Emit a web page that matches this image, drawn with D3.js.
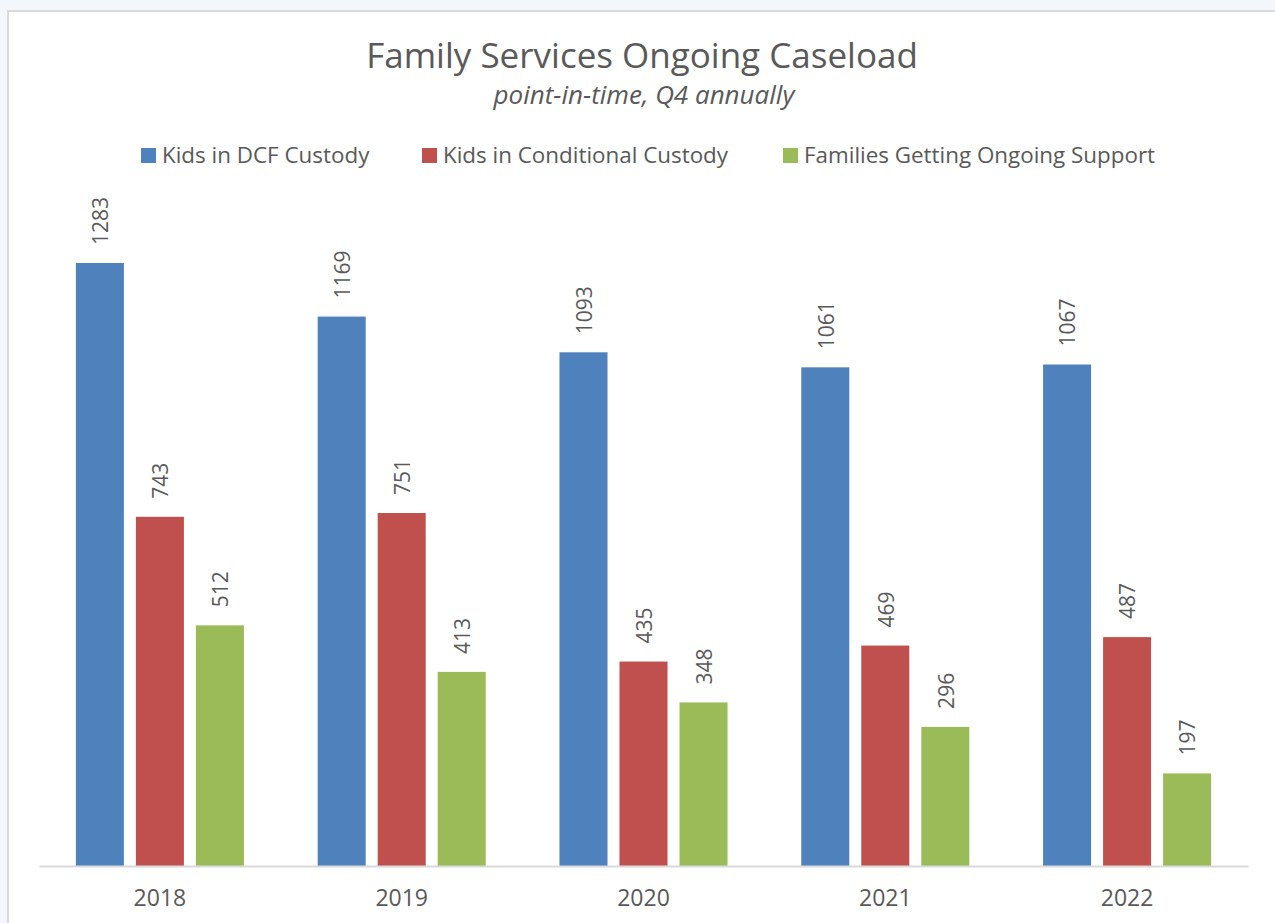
<!DOCTYPE html>
<html>
<head>
<meta charset="utf-8">
<script src="https://cdn.jsdelivr.net/npm/d3@7"></script>
<style>
  html, body { margin: 0; padding: 0; background: #f3f6fb; }
  svg { display: block; }
</style>
</head>
<body>
<svg id="chart" width="1275" height="923"></svg>
<script>
const years = ["2018", "2019", "2020", "2021", "2022"];
const seriesNames = ["Kids in DCF Custody", "Kids in Conditional Custody", "Families Getting Ongoing Support"];
const dcfCustody = [1283, 1169, 1093, 1061, 1067];
const conditionalCustody = [743, 751, 435, 469, 487];
const ongoingSupport = [512, 413, 348, 296, 197];
const seriesColors = ["#4f81bd", "#c0504d", "#9bbb59"];
const titleText = "Family Services Ongoing Caseload";
const subtitleText = "point-in-time, Q4 annually";

const seriesValues = [dcfCustody, conditionalCustody, ongoingSupport];
const rows = years.map((y, i) => ({ year: y, values: seriesNames.map((s, j) => ({ key: s, idx: j, value: seriesValues[j][i] })) }));

const svg = d3.select("#chart");
const font = "'Open Sans', 'DejaVu Sans', sans-serif";
const textColor = "#595959";

// chart area
svg.append("rect").attr("x", 8).attr("y", 11).attr("width", 1300).attr("height", 950)
  .attr("fill", "#ffffff").attr("stroke", "#d9d9d9").attr("stroke-width", 2);

// title
svg.append("text").attr("x", 642).attr("y", 68).attr("text-anchor", "middle")
  .attr("font-family", font).attr("font-size", 35).attr("fill", textColor).text(titleText);
svg.append("text").attr("x", 644).attr("y", 104).attr("text-anchor", "middle")
  .attr("font-family", font).attr("font-size", 26).attr("font-style", "italic").attr("fill", textColor).text(subtitleText);

// scales
const x0 = d3.scaleBand().domain(years).range([39, 1248]).paddingInner(0.305).paddingOuter(0.1525);
const x1 = d3.scaleBand().domain(seriesNames).range([0, x0.bandwidth()]).paddingInner(0.2).paddingOuter(0);
const y = d3.scaleLinear().domain([0, 1400]).range([866, 208]);
const color = d3.scaleOrdinal().domain(seriesNames).range(seriesColors);

// bars
const groups = svg.append("g").selectAll("g").data(rows).join("g")
  .attr("transform", d => `translate(${x0(d.year)},0)`);
groups.selectAll("rect").data(d => d.values).join("rect")
  .attr("x", d => x1(d.key)).attr("y", d => y(d.value))
  .attr("width", x1.bandwidth()).attr("height", d => y(0) - y(d.value))
  .attr("fill", d => color(d.key));
groups.selectAll("text").data(d => d.values).join("text")
  .attr("transform", d => `translate(${x1(d.key) + x1.bandwidth() / 2 + 1},${y(d.value) - 18}) rotate(-90)`)
  .attr("dy", "0.35em")
  .attr("font-family", font).attr("font-size", 21).attr("fill", textColor)
  .text(d => d.value);

// x axis
const xAxis = d3.axisBottom(x0).tickSize(0).tickPadding(24);
const gx = svg.append("g").attr("transform", `translate(0,${y(0)})`).call(xAxis);
gx.select(".domain").attr("stroke", "#d9d9d9").attr("stroke-width", 2);
gx.selectAll("text").attr("font-family", font).attr("font-size", 23).attr("fill", textColor);

// legend
const legendX = [141, 422, 783];
const legend = svg.append("g").selectAll("g").data(seriesNames).join("g")
  .attr("transform", (d, i) => `translate(${legendX[i]},148)`);
legend.append("rect").attr("width", 15).attr("height", 15).attr("fill", d => color(d));
legend.append("text").attr("x", 21).attr("y", 7.5).attr("dy", "0.35em")
  .attr("font-family", font).attr("font-size", 22.4).attr("fill", textColor).text(d => d);
</script>
</body>
</html>
